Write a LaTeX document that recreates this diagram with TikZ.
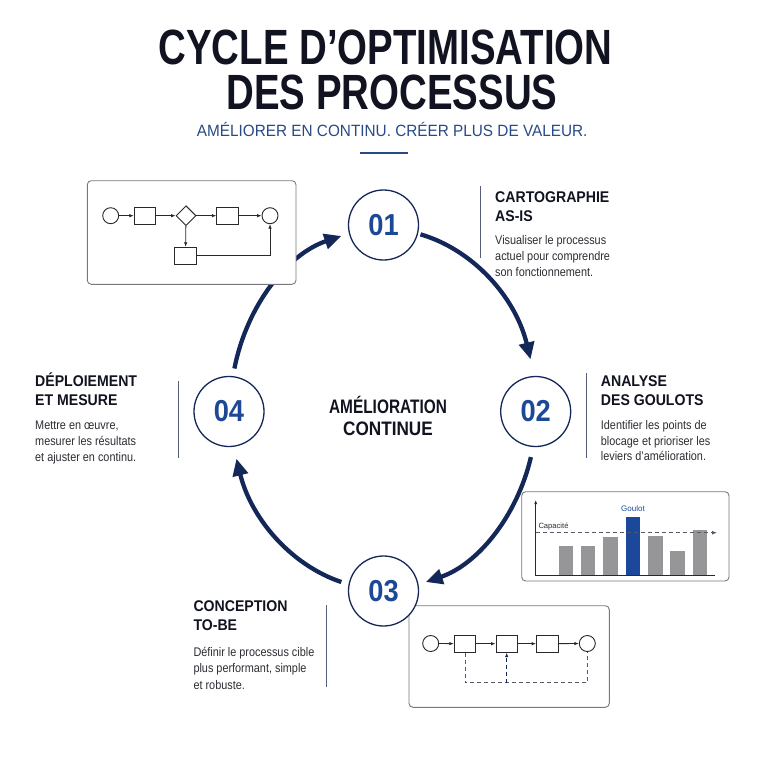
\documentclass[tikz,border=0pt]{standalone}
\usepackage{fontspec}
\setmainfont{Liberation Sans}
\usepackage{graphicx}
\usetikzlibrary{arrows.meta,shapes.geometric,calc}
\definecolor{navy}{RGB}{19,40,88}
\definecolor{numblue}{RGB}{28,72,150}
\definecolor{subblue}{RGB}{40,75,135}
\definecolor{headc}{RGB}{17,20,32}
\definecolor{bodyc}{RGB}{45,45,52}
\definecolor{boxc}{RGB}{120,120,125}
\definecolor{sepc}{RGB}{85,95,120}
\definecolor{barc}{RGB}{150,150,152}
\definecolor{barblue}{RGB}{28,72,155}
\definecolor{flowc}{RGB}{40,40,45}
\definecolor{dashc}{RGB}{85,90,105}
\newcommand\hsc[2]{\scalebox{#1}[1]{#2}}
\begin{document}
\begin{tikzpicture}[x=1pt,y=-1pt,
  stepc/.style={circle, draw=navy, line width=1.3pt, fill=white, minimum size=70pt, inner sep=0pt,
    font=\fontsize{30.3}{30}\selectfont\bfseries, text=numblue},
  cyc/.style={draw=navy, line width=4.3pt, -{Triangle[length=17pt,width=15pt]}},
  panel/.style={draw=boxc, line width=0.9pt, rounded corners=4pt, fill=white, inner sep=0pt},
  fcirc/.style={circle, draw=flowc, line width=0.9pt, minimum size=16pt, inner sep=0pt, fill=white},
  frect/.style={rectangle, draw=flowc, line width=0.9pt, minimum width=21.5pt, minimum height=17pt, inner sep=0pt, fill=white},
  fdia/.style={diamond, draw=flowc, line width=0.9pt, minimum size=20pt, inner sep=0pt, aspect=1, fill=white},
  flow/.style={draw=flowc, line width=0.8pt, -{Latex[length=4.5pt,width=3.5pt]}},
  dflow/.style={draw=dashc, line width=0.8pt, dash pattern=on 4pt off 3pt},
  sepline/.style={draw=sepc, line width=1pt},
  head/.style={anchor=base west, inner sep=0pt, font=\fontsize{15.5}{18}\selectfont\bfseries, text=headc},
  body/.style={anchor=base west, inner sep=0pt, font=\fontsize{12.5}{16}\selectfont, text=bodyc},
  ttl/.style={anchor=base, inner sep=0pt, font=\fontsize{49.5}{50}\selectfont\bfseries, text=headc},
]
\useasboundingbox (0,0) rectangle (768,768);
\fill[white] (0,0) rectangle (768,768);

% ---------- title ----------
\node[ttl] (t1) at (385.5,64.3) {\hsc{0.776}{CYCLE D’OPTIMISATION}};
\node[ttl] (t2) at (392,109) {\hsc{0.776}{DES PROCESSUS}};
\node[anchor=base, inner sep=0pt, font=\fontsize{16.3}{18}\selectfont, text=subblue] (sub) at (392.2,136.7)
  {\hsc{0.94}{AMÉLIORER EN CONTINU. CRÉER PLUS DE VALEUR.}};
\coordinate (ul1) at (360,152.7);
\coordinate (ul2) at (407.7,152.7);
\draw[subblue, line width=1.8pt] (ul1) -- (ul2);

% ---------- cycle arcs ----------
\coordinate (cc) at (383.5,409);
\path (cc) ++(-76:153 and 180) coordinate (a1s);
\path (cc) ++(15.5:153 and 180) coordinate (a2s);
\path (cc) ++(106:153 and 180) coordinate (a3s);
\path (cc) ++(193:153 and 180) coordinate (a4s);
\draw[cyc] (a1s) arc[start angle=-76, end angle=-16, x radius=153, y radius=180];
\draw[cyc] (a2s) arc[start angle=15.5, end angle=74, x radius=153, y radius=180];
\draw[cyc] (a3s) arc[start angle=106, end angle=164, x radius=153, y radius=180];
\draw[cyc] (a4s) arc[start angle=193, end angle=254, x radius=153, y radius=180];

% ---------- panel 1: AS-IS flow ----------
\node[panel, minimum width=208.7pt, minimum height=103.6pt] (box1) at (191.65,232.5) {};
\node[fcirc] (s1) at (110.7,215.7) {};
\node[frect] (r1) at (145,215.7) {};
\node[fdia] (d1) at (186,215.7) {};
\node[frect] (r2) at (227.5,215.7) {};
\node[fcirc] (e1) at (270,215.7) {};
\node[frect] (r3) at (185.5,255.8) {};
\draw[flow] (s1) -- (r1);
\draw[flow] (r1) -- (d1);
\draw[flow] (d1) -- (r2);
\draw[flow] (r2) -- (e1);
\draw[flow] (d1) -- (r3);
\draw[flow] (r3.east) -| (e1.south);

% ---------- panel 2: chart ----------
\node[panel, minimum width=207.3pt, minimum height=89.3pt] (box2) at (625.35,536.35) {};
\fill[barc] (558.7,575.7) rectangle (573.3,546.3);
\fill[barc] (581,575.7) rectangle (595.3,546.3);
\fill[barc] (603.3,575.7) rectangle (618,536.7);
\fill[barblue] (625.7,575.7) rectangle (640.3,516.7);
\fill[barc] (648,575.7) rectangle (662.7,535.7);
\fill[barc] (670.3,575.7) rectangle (685,551);
\fill[barc] (692.7,575.7) rectangle (707.3,530.3);
\coordinate (yo) at (535.7,575.7);
\coordinate (yt) at (535.7,500);
\coordinate (xe) at (715,575.7);
\coordinate (ds) at (535.7,532.7);
\coordinate (de) at (717,532.7);
\draw[dashc, line width=0.9pt, dash pattern=on 4pt off 3pt, -{Latex[length=5pt,width=4pt]}] (ds) -- (de);
\draw[flowc, line width=0.8pt, -{Latex[length=4pt,width=3pt]}] (yo) -- (yt);
\draw[flowc, line width=0.8pt] (yo) -- (xe);
\node[anchor=base west, inner sep=0pt, font=\fontsize{7.6}{9}\selectfont, text=bodyc] (cap) at (538.3,528.7) {Capacité};
\node[anchor=base, inner sep=0pt, font=\fontsize{8}{9}\selectfont, text=barblue] (goul) at (633,511) {Goulot};

% ---------- panel 3: TO-BE flow ----------
\node[panel, minimum width=200.3pt, minimum height=101.6pt] (box3) at (509.15,656.5) {};
\node[fcirc] (s3) at (430.7,643.5) {};
\node[frect] (a3) at (465,643.7) {};
\node[frect] (b3) at (506.7,643.7) {};
\node[frect] (c3) at (547.3,643.7) {};
\node[fcirc] (e3) at (587.3,643.5) {};
\draw[flow] (s3) -- (a3);
\draw[flow] (a3) -- (b3);
\draw[flow] (b3) -- (c3);
\draw[flow] (c3) -- (e3);
\coordinate (dl) at (465,682.7);
\coordinate (dr) at (587.3,682.7);
\coordinate (dm) at (506.7,682.7);
\draw[dflow] (a3.south) -- (dl) -- (dr) -- (e3.south);
\draw[dflow, draw=navy, -{Latex[length=4.5pt,width=3.5pt]}] (dm) -- (b3.south);

% ---------- step circles ----------
\node[stepc] (n1) at (383.5,225) {\hsc{0.9}{01}};
\node[stepc] (n2) at (535.7,411.5) {\hsc{0.9}{02}};
\node[stepc] (n3) at (383.5,591) {\hsc{0.9}{03}};
\node[stepc] (n4) at (229,411.5) {\hsc{0.9}{04}};

% ---------- center text ----------
\node[anchor=base, inner sep=0pt, font=\fontsize{19.5}{22}\selectfont\bfseries, text=headc] (m1) at (388,413.3) {\hsc{0.79}{AMÉLIORATION}};
\node[anchor=base, inner sep=0pt, font=\fontsize{19.5}{22}\selectfont\bfseries, text=headc] (m2) at (388,435) {\hsc{0.88}{CONTINUE}};

% ---------- step 1 text ----------
\draw[sepline] (480,186) -- (480,258);
\node[head] (h1a) at (495,202.7) {\hsc{0.91}{CARTOGRAPHIE}};
\node[head] (h1b) at (495,221) {\hsc{0.91}{AS-IS}};
\node[body] (b1a) at (495,244.3) {\hsc{0.87}{Visualiser le processus}};
\node[body] (b1b) at (495,260.3) {\hsc{0.87}{actuel pour comprendre}};
\node[body] (b1c) at (495,276.3) {\hsc{0.87}{son fonctionnement.}};

% ---------- step 2 text ----------
\draw[sepline] (586,373) -- (586,458);
\node[head] (h2a) at (600.7,386.7) {\hsc{0.91}{ANALYSE}};
\node[head] (h2b) at (600.7,405) {\hsc{0.91}{DES GOULOTS}};
\node[body] (b2a) at (600.7,429) {\hsc{0.87}{Identifier les points de}};
\node[body] (b2b) at (600.7,445) {\hsc{0.87}{blocage et prioriser les}};
\node[body] (b2c) at (600.7,460.7) {\hsc{0.87}{leviers d’amélioration.}};

% ---------- step 4 text ----------
\draw[sepline] (178.3,381) -- (178.3,458);
\node[head] (h4a) at (35,386.7) {\hsc{0.91}{DÉPLOIEMENT}};
\node[head] (h4b) at (35,405) {\hsc{0.91}{ET MESURE}};
\node[body] (b4a) at (35,429) {\hsc{0.87}{Mettre en œuvre,}};
\node[body] (b4b) at (35,445) {\hsc{0.87}{mesurer les résultats}};
\node[body] (b4c) at (35,461) {\hsc{0.87}{et ajuster en continu.}};

% ---------- step 3 text ----------
\draw[sepline] (326.7,605) -- (326.7,687);
\node[head] (h3a) at (193.3,611.7) {\hsc{0.91}{CONCEPTION}};
\node[head] (h3b) at (193.3,630.7) {\hsc{0.91}{TO-BE}};
\node[body] (b3a) at (193.3,656) {\hsc{0.87}{Définir le processus cible}};
\node[body] (b3b) at (193.3,672.7) {\hsc{0.87}{plus performant, simple}};
\node[body] (b3c) at (193.3,689) {\hsc{0.87}{et robuste.}};
\end{tikzpicture}
\end{document}
